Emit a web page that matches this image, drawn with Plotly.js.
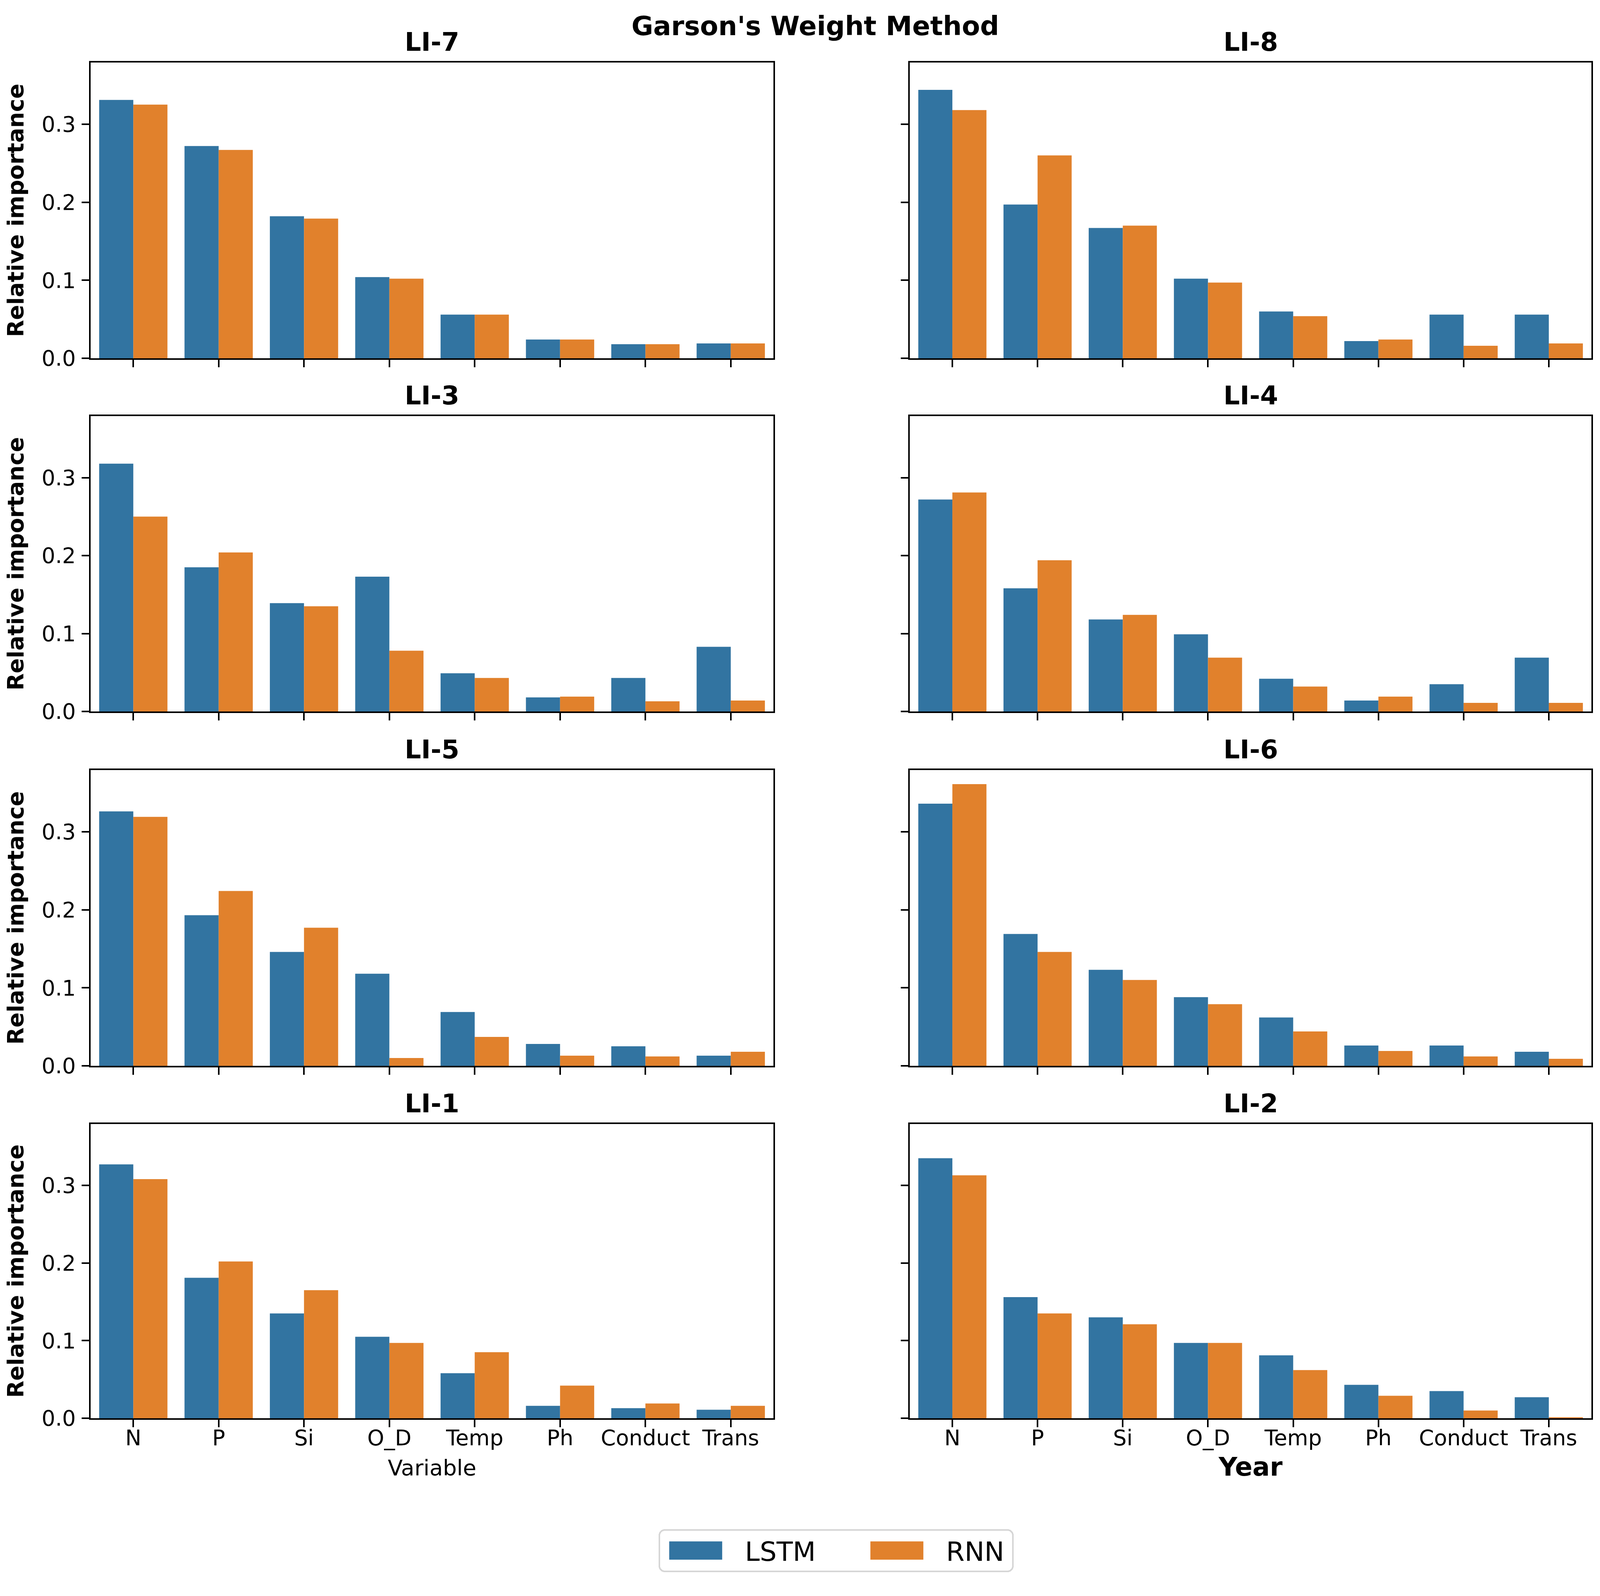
<!DOCTYPE html>
<html>
<head>
<meta charset="utf-8">
<script src="https://cdn.plot.ly/plotly-3.0.1.min.js"></script>
<style>
  html, body { margin: 0; padding: 0; background: #ffffff; }
  #chart { width: 4115px; height: 4085px; }
</style>
</head>
<body>
<div id="chart"></div>
<script>
// ---------- data ----------
const categories = ['N', 'P', 'Si', 'O_D', 'Temp', 'Ph', 'Conduct', 'Trans'];
const panelNames = ['LI-7', 'LI-8', 'LI-3', 'LI-4', 'LI-5', 'LI-6', 'LI-1', 'LI-2'];
const seriesNames = ['LSTM', 'RNN'];
const yTickVals = [0.0, 0.1, 0.2, 0.3];

const lstm_LI7 = [0.331, 0.272, 0.182, 0.104, 0.056, 0.024, 0.018, 0.019];
const rnn_LI7  = [0.325, 0.267, 0.179, 0.102, 0.056, 0.024, 0.018, 0.019];
const lstm_LI8 = [0.344, 0.197, 0.167, 0.102, 0.060, 0.022, 0.056, 0.056];
const rnn_LI8  = [0.318, 0.260, 0.170, 0.097, 0.054, 0.024, 0.016, 0.019];
const lstm_LI3 = [0.318, 0.185, 0.139, 0.173, 0.049, 0.018, 0.043, 0.083];
const rnn_LI3  = [0.250, 0.204, 0.135, 0.078, 0.043, 0.019, 0.013, 0.014];
const lstm_LI4 = [0.272, 0.158, 0.118, 0.099, 0.042, 0.014, 0.035, 0.069];
const rnn_LI4  = [0.281, 0.194, 0.124, 0.069, 0.032, 0.019, 0.011, 0.011];
const lstm_LI5 = [0.326, 0.193, 0.146, 0.118, 0.069, 0.028, 0.025, 0.013];
const rnn_LI5  = [0.319, 0.224, 0.177, 0.010, 0.037, 0.013, 0.012, 0.018];
const lstm_LI6 = [0.336, 0.169, 0.123, 0.088, 0.062, 0.026, 0.026, 0.018];
const rnn_LI6  = [0.361, 0.146, 0.110, 0.079, 0.044, 0.019, 0.012, 0.009];
const lstm_LI1 = [0.327, 0.181, 0.135, 0.105, 0.058, 0.016, 0.013, 0.011];
const rnn_LI1  = [0.308, 0.202, 0.165, 0.097, 0.085, 0.042, 0.019, 0.016];
const lstm_LI2 = [0.335, 0.156, 0.130, 0.097, 0.081, 0.043, 0.035, 0.027];
const rnn_LI2  = [0.313, 0.135, 0.121, 0.097, 0.062, 0.029, 0.010, 0.0013];

const lstmSeries = [lstm_LI7, lstm_LI8, lstm_LI3, lstm_LI4, lstm_LI5, lstm_LI6, lstm_LI1, lstm_LI2];
const rnnSeries  = [rnn_LI7, rnn_LI8, rnn_LI3, rnn_LI4, rnn_LI5, rnn_LI6, rnn_LI1, rnn_LI2];

// ---------- styling / layout ----------
const W = 4115, H = 4085;
const FONT = 'DejaVu Sans';
const colors = ['#3274a1', '#e1812c'];

const colX = [[232, 1980], [2329, 4074]];          // px, left/right
const rowY = [[160, 917], [1065, 1821], [1971, 2728], [2877, 3630]]; // px, top/bottom

const TICK = 55;
const LEG_BW = 4;
const LEG_LEFT = 1686, LEG_W = 909;

const traces = [];
const layout = {
  width: W, height: H,
  margin: {l: 0, r: 0, t: 0, b: 0, pad: 0},
  paper_bgcolor: '#ffffff', plot_bgcolor: '#ffffff',
  font: {family: FONT, color: '#000000', size: TICK},
  barmode: 'group', bargap: 0.2, bargroupgap: 0,
  title: {
    text: "<b>Garson's Weight Method</b>",
    font: {family: FONT, size: 68, color: '#000000'},
    x: 2087 / W, xanchor: 'center', xref: 'paper',
    y: 1 - 66 / H, yanchor: 'middle', yref: 'paper'
  },
  showlegend: true,
  legend: {
    orientation: 'h',
    x: LEG_LEFT / W, xanchor: 'left',
    y: 1 - 3969 / H, yanchor: 'middle',
    font: {family: FONT, size: 68, color: '#000000'},
    bgcolor: '#ffffff', bordercolor: '#d6d6d6', borderwidth: LEG_BW,
    itemwidth: 207,
    entrywidth: 293,
    traceorder: 'normal'
  },
  annotations: []
};

for (let i = 0; i < panelNames.length; i++) {
  const r = Math.floor(i / 2), c = i % 2;
  const n = i + 1;
  const xa = n === 1 ? 'xaxis' : 'xaxis' + n;
  const ya = n === 1 ? 'yaxis' : 'yaxis' + n;
  const xref = n === 1 ? 'x' : 'x' + n;
  const yref = n === 1 ? 'y' : 'y' + n;
  const bottom = r === rowY.length - 1;

  layout[xa] = {
    domain: [colX[c][0] / W, colX[c][1] / W],
    anchor: yref,
    type: 'category',
    categoryorder: 'array', categoryarray: categories,
    range: [-0.5, categories.length - 0.5],
    showline: true, mirror: true, linecolor: '#000000', linewidth: 4,
    ticks: 'outside', ticklen: 19, tickwidth: 4, tickcolor: '#000000',
    ticklabelstandoff: -20,
    showticklabels: bottom,
    tickfont: {family: FONT, size: TICK, color: '#000000'},
    showgrid: false, zeroline: false, fixedrange: true
  };
  if (bottom) {
    layout[xa].title = c === 0
      ? {text: 'Variable', font: {family: FONT, size: 56, color: '#000000'}, standoff: 27}
      : {text: '<b>Year</b>', font: {family: FONT, size: 66, color: '#000000'}, standoff: 21};
  }
  layout[ya] = {
    domain: [1 - rowY[r][1] / H, 1 - rowY[r][0] / H],
    anchor: xref,
    range: [0, 0.379],
    tickvals: yTickVals, tickformat: '.1f',
    showline: true, mirror: true, linecolor: '#000000', linewidth: 4,
    ticks: 'outside', ticklen: 19, tickwidth: 4, tickcolor: '#000000',
    ticklabelstandoff: 4,
    showticklabels: c === 0,
    tickfont: {family: FONT, size: TICK, color: '#000000'},
    showgrid: false, zeroline: false, fixedrange: true
  };
  if (c === 0) {
    layout[ya].title = {text: '<b>Relative importance</b>', font: {family: FONT, size: 57, color: '#000000'}, standoff: 29};
  }

  layout.annotations.push({
    text: '<b>' + panelNames[i] + '</b>',
    xref: 'paper', yref: 'paper',
    x: (colX[c][0] + colX[c][1]) / 2 / W,
    y: 1 - (rowY[r][0] - 53) / H,
    xanchor: 'center', yanchor: 'middle',
    showarrow: false,
    font: {family: FONT, size: 66, color: '#000000'}
  });

  const vals = [lstmSeries[i], rnnSeries[i]];
  for (let s = 0; s < 2; s++) {
    traces.push({
      type: 'bar',
      name: seriesNames[s],
      x: categories,
      y: vals[s],
      xaxis: xref, yaxis: yref,
      marker: {color: colors[s], line: {width: 0}},
      legendgroup: seriesNames[s],
      showlegend: i === 0,
      offsetgroup: String(s),
      hoverinfo: 'skip'
    });
  }
}

Plotly.newPlot('chart', traces, layout, {staticPlot: true, displayModeBar: false}).then(function () {
  // matplotlib-like legend: wide patches, box trimmed to content, rounded corners
  document.querySelectorAll('#chart .legend .legendpoints path').forEach(function (p) {
    p.setAttribute('transform', 'translate(91,0) scale(11.3,3.9)');
  });
  const bg = document.querySelector('#chart .legend rect.bg');
  if (bg) {
    bg.setAttribute('width', String(LEG_W - LEG_BW));
    bg.setAttribute('rx', '14');
    bg.setAttribute('ry', '14');
  }
});
</script>
</body>
</html>
